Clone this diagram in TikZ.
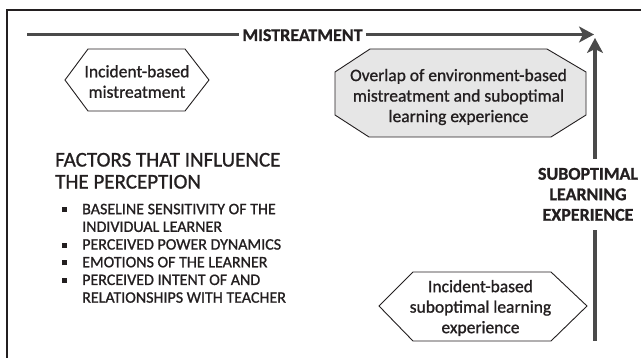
\documentclass[tikz,border=0pt]{standalone}
\usepackage{fontspec}
\setmainfont{Carlito}[UprightFeatures={FakeBold=1.0},BoldFeatures={FakeBold=0.8}]
\usetikzlibrary{arrows.meta}
\definecolor{ink}{HTML}{231F20}
\definecolor{arr}{HTML}{4A4A4A}
\definecolor{boxfill}{HTML}{E6E6E6}
\begin{document}
\begin{tikzpicture}[x=1pt,y=-1pt,
  arrowline/.style={line width=3.5pt, draw=arr},
  tipped/.style={-{Stealth[length=15pt,width=16pt,inset=4pt]}},
  shapeline/.style={draw=ink, line width=0.9pt, line join=miter},
  boxtext/.style={font=\fontsize{17.5}{20.5}\selectfont, align=center, text=ink, inner sep=0pt},
  axislabel/.style={font=\bfseries\fontsize{18}{20.5}\selectfont, text=ink, align=center},
]
\useasboundingbox (0,0) rectangle (641,358);
\clip (0,0) rectangle (641,358);
\fill[white] (0,0) rectangle (641,358);
% frame
\draw[draw=ink, line width=1.5pt] (7,370) -- (7,10) -- (660,10);

% horizontal axis
\coordinate (hstart) at (27,34.5);
\coordinate (htip) at (594,34.5);
\node[axislabel, inner xsep=3pt, inner ysep=0pt, anchor=base] (mis) at (302.5,41) {MISTREATMENT};
\draw[arrowline] (hstart) -- (hstart -| mis.west);
\draw[arrowline, tipped] (hstart -| mis.east) -- (htip);

% vertical axis
\coordinate (vbot) at (595,341);
\coordinate (vtop) at (595,38);
\node[axislabel, inner xsep=0pt, inner ysep=9pt, anchor=north] (sub) at (588,158.7) {SUBOPTIMAL\\LEARNING\\EXPERIENCE};
\draw[arrowline] (vbot) -- (vbot |- sub.south);
\draw[arrowline, tipped] (vbot |- sub.north) -- (vtop);

% incident-based mistreatment
\draw[shapeline] (65,80) -- (88,49) -- (185,49) -- (209,80) -- (185,111) -- (88,111) -- cycle;
\node[boxtext] (ibm) at (137,81.5) {Incident-based\\mistreatment};

% overlap
\draw[shapeline, fill=boxfill] (370,49) -- (547,49) -- (586,72) -- (586,115) -- (551,137) -- (369,137) -- (335,115) -- (335,72) -- cycle;
\node[boxtext] (ovl) at (458.5,97) {Overlap of environment-based\\mistreatment and suboptimal\\learning experience};

% incident-based suboptimal
\draw[shapeline] (379,306) -- (413,272) -- (551,272) -- (587,306) -- (551,341) -- (413,341) -- cycle;
\node[boxtext] (ibs) at (480.5,308) {Incident-based\\suboptimal learning\\experience};

% factors
\node[anchor=north west, inner sep=0pt, align=left, text=ink, font=\fontsize{21}{22}\selectfont] (fac) at (55,152.7) {FACTORS THAT INFLUENCE\\THE PERCEPTION};
\node[anchor=north west, inner sep=0pt, text=ink, font=\fontsize{16}{17.7}\selectfont] (lst) at (62,201.6) {%
\begin{tabular}{@{}l@{\hspace{15pt}}l@{}}
\rule[2pt]{5pt}{5pt} & BASELINE SENSITIVITY OF THE\\
 & INDIVIDUAL LEARNER\\
\rule[2pt]{5pt}{5pt} & PERCEIVED POWER DYNAMICS\\
\rule[2pt]{5pt}{5pt} & EMOTIONS OF THE LEARNER\\
\rule[2pt]{5pt}{5pt} & PERCEIVED INTENT OF AND\\
 & RELATIONSHIPS WITH TEACHER
\end{tabular}};
\end{tikzpicture}
\end{document}
